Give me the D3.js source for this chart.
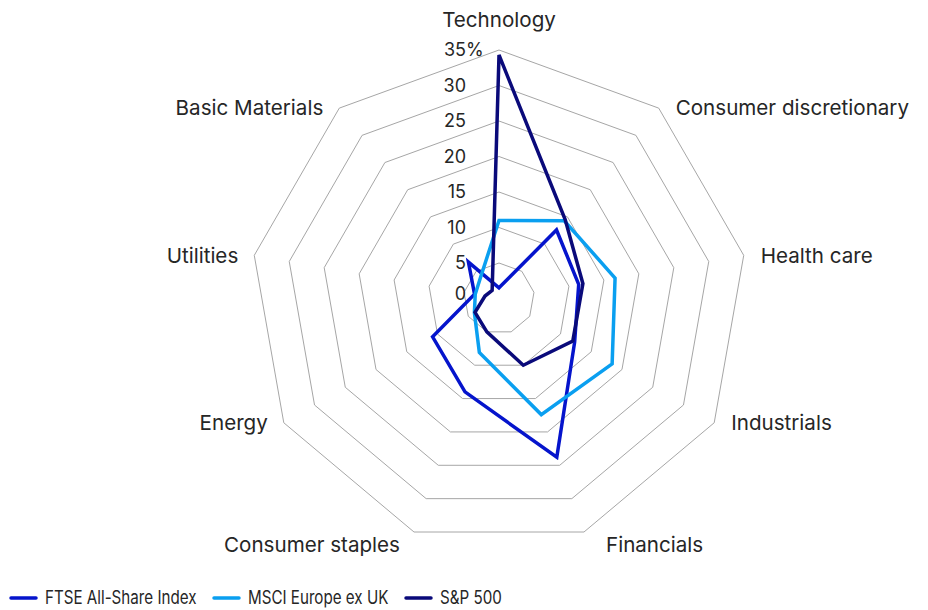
<!DOCTYPE html>
<html>
<head>
<meta charset="utf-8">
<script src="https://cdn.jsdelivr.net/npm/d3@7"></script>
<style>
  html, body { margin: 0; padding: 0; background: #ffffff; }
  svg { display: block; }
  text { font-family: Inter, "Noto Sans", sans-serif; fill: #262626; }
</style>
</head>
<body>
<svg id="chart" width="928" height="610"></svg>
<script>
// ---- Data ----
const categories = ["Technology", "Consumer discretionary", "Health care", "Industrials",
  "Financials", "Consumer staples", "Energy", "Utilities", "Basic Materials"];
const seriesNames = ["FTSE All-Share Index", "MSCI Europe ex UK", "S&P 500"];
const ftseValues  = [1.5, 12.6, 11.4, 12.3, 23.8, 14.0, 10.8, 3.5, 6.7];
const msciValues  = [11.0, 14.3, 16.6, 18.4, 17.4, 8.1, 4.0, 3.4, 4.0];
const sp500Values = [34.3, 14.5, 12.0, 12.0, 10.0, 5.0, 3.9, 2.0, 1.5];
const tickValues = [0, 5, 10, 15, 20, 25, 30, 35];
const tickLabels = ["0", "5", "10", "15", "20", "25", "30", "35%"];
const seriesColors = ["#0514cc", "#0a9ff0", "#0a0a7a"];

const seriesData = [ftseValues, msciValues, sp500Values];

// ---- Layout ----
const svg = d3.select("#chart");
const cx = 499, cy = 298.5, R = 248.5;
const n = categories.length;
const step = 2 * Math.PI / n;

const r = d3.scaleLinear().domain([0, 35]).range([0, R]);
const angle = i => i * step;

const g = svg.append("g").attr("transform", `translate(${cx},${cy})`);

// Grid rings (polygons)
const ringLine = d3.lineRadial()
  .angle((d, i) => angle(i))
  .radius(d => r(d))
  .curve(d3.curveLinearClosed);

g.append("g").attr("class", "grid")
  .selectAll("path")
  .data(tickValues.filter(v => v > 0))
  .join("path")
  .attr("d", v => ringLine(categories.map(() => v)))
  .attr("fill", "none")
  .attr("stroke", "#a6a6a6")
  .attr("stroke-width", 1);

// Tick labels
const tickG = svg.append("g").attr("class", "ticks");
tickValues.forEach((v, i) => {
  const label = tickLabels[i];
  const y = Math.min(cy - r(v), cy - 5);
  const hasPct = label.endsWith("%");
  const num = hasPct ? label.slice(0, -1) : label;
  tickG.append("text")
    .attr("x", cx - 33)
    .attr("y", y)
    .attr("dy", "0.35em")
    .attr("text-anchor", "end")
    .attr("font-size", 18)
    .text(num);
  if (hasPct) {
    tickG.append("text")
      .attr("x", cx - 33)
      .attr("y", y)
      .attr("dy", "0.35em")
      .attr("text-anchor", "start")
      .attr("font-size", 18)
      .text("%");
  }
});

// Category labels
const catG = svg.append("g").attr("class", "categories");
categories.forEach((c, i) => {
  const a = angle(i);
  const vx = cx + R * Math.sin(a);
  const vy = cy - R * Math.cos(a);
  const s = Math.sin(a), co = Math.cos(a);
  let x = vx, y = vy, anchor = "middle";
  if (Math.abs(s) < 1e-6) {
    y = vy - 30;
  } else {
    anchor = s > 0 ? "start" : "end";
    const bottom = co < -0.9;
    const dx = bottom ? (s > 0 ? 22 : -14) : (s > 0 ? 17 : -16);
    x = vx + dx;
    y = vy + (bottom ? 13 : 0);
  }
  catG.append("text")
    .attr("x", x)
    .attr("y", y)
    .attr("dy", "0.35em")
    .attr("text-anchor", anchor)
    .attr("font-size", 20.6)
    .text(c);
});

// Series lines
const seriesLine = d3.lineRadial()
  .angle((d, i) => angle(i))
  .radius(d => r(d))
  .curve(d3.curveLinearClosed);

g.append("g").attr("class", "series")
  .selectAll("path")
  .data(seriesData)
  .join("path")
  .attr("d", d => seriesLine(d))
  .attr("fill", "none")
  .attr("stroke", (d, i) => seriesColors[i])
  .attr("stroke-width", 3.5)
  .attr("stroke-linejoin", "miter");

// Legend
const legendX = [10, 213, 405];
const legend = svg.append("g").attr("class", "legend");
seriesNames.forEach((name, i) => {
  const lg = legend.append("g").attr("transform", `translate(${legendX[i]},598)`);
  lg.append("line")
    .attr("x1", 1).attr("x2", 26).attr("y1", 0).attr("y2", 0)
    .attr("stroke", seriesColors[i])
    .attr("stroke-width", 3.5)
    .attr("stroke-linecap", "round");
  lg.append("text")
    .attr("transform", "translate(35,0) scale(0.82,1)")
    .attr("dy", "0.35em")
    .attr("font-size", 18.5)
    .text(name);
});
</script>
</body>
</html>
